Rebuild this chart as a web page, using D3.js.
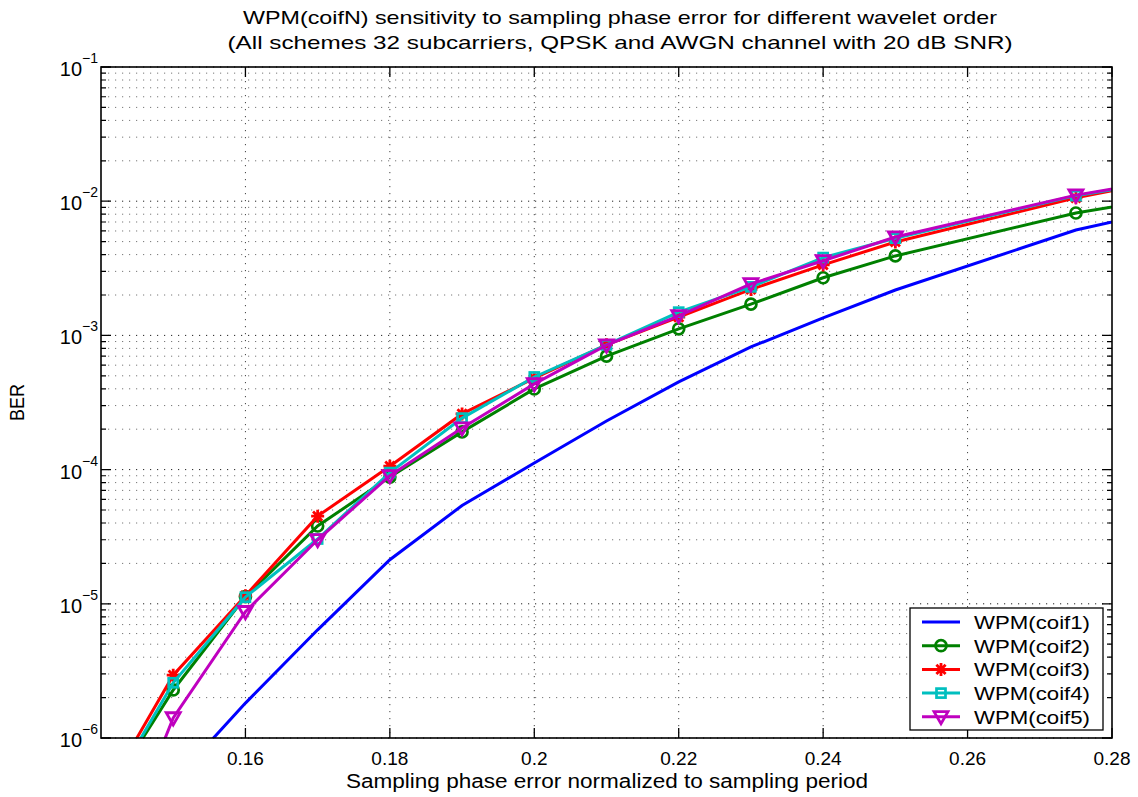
<!DOCTYPE html>
<meta charset="utf-8">
<head>
<style>
  body { margin: 0; background: #fff; }
  text { font-family: "Liberation Sans", Arial, sans-serif; fill: #000; }
</style>
</head>
<body>
<div id="chart"></div>
<script src="https://d3js.org/d3.v7.min.js"></script>
<script>

// sampling phase error (normalized), first and last points fall outside the view
var phaseErr = [0.14, 0.15, 0.16, 0.17, 0.18, 0.19, 0.20, 0.21, 0.22, 0.23, 0.24, 0.25, 0.275, 0.30];

var berCoif1 = [1.0e-7, 4.7e-7, 1.82e-6, 6.4e-6, 2.13e-5, 5.4e-5, 1.12e-4, 2.3e-4, 4.5e-4, 8.2e-4, 1.35e-3, 2.18e-3, 6.1e-3, 1.21e-2];
var berCoif2 = [3.2e-7, 2.28e-6, 1.13e-5, 3.8e-5, 8.8e-5, 1.91e-4, 3.99e-4, 7.0e-4, 1.12e-3, 1.71e-3, 2.69e-3, 3.91e-3, 8.17e-3, 1.37e-2];
var berCoif3 = [3.45e-7, 2.94e-6, 1.15e-5, 4.5e-5, 1.06e-4, 2.6e-4, 4.8e-4, 8.5e-4, 1.37e-3, 2.2e-3, 3.35e-3, 4.97e-3, 1.06e-2, 1.93e-2];
var berCoif4 = [3.1e-7, 2.58e-6, 1.12e-5, 3.04e-5, 9.5e-5, 2.42e-4, 4.9e-4, 8.5e-4, 1.49e-3, 2.3e-3, 3.8e-3, 5.3e-3, 1.1e-2, 1.83e-2];
var berCoif5 = [6.4e-8, 1.41e-6, 8.73e-6, 3.0e-5, 9.0e-5, 2.04e-4, 4.35e-4, 8.47e-4, 1.40e-3, 2.42e-3, 3.6e-3, 5.41e-3, 1.11e-2, 1.86e-2];

var seriesNames = ["WPM(coif1)", "WPM(coif2)", "WPM(coif3)", "WPM(coif4)", "WPM(coif5)"];
var xTicks = [0.16, 0.18, 0.20, 0.22, 0.24, 0.26, 0.28];
var xTickLabels = ["0.16", "0.18", "0.2", "0.22", "0.24", "0.26", "0.28"];
var yExponents = [-1, -2, -3, -4, -5, -6];

var series = [
  { name: seriesNames[0], values: berCoif1, color: "#0000ff", marker: "none" },
  { name: seriesNames[1], values: berCoif2, color: "#008000", marker: "circle" },
  { name: seriesNames[2], values: berCoif3, color: "#ff0000", marker: "star" },
  { name: seriesNames[3], values: berCoif4, color: "#00bfbf", marker: "square" },
  { name: seriesNames[4], values: berCoif5, color: "#bf00bf", marker: "triangle" }
];

var W = 1138, H = 797;
var margin = {top: 67, right: 26, bottom: 59, left: 101},
    width = W - margin.left - margin.right,
    height = H - margin.top - margin.bottom;

var svg = d3.select("#chart").append("svg")
    .attr("width", W)
    .attr("height", H);

var g = svg.append("g")
    .attr("transform", "translate(" + margin.left + "," + margin.top + ")");

var x = d3.scaleLinear().domain([0.14, 0.28]).range([0, width]);
var y = d3.scaleLog().domain([1e-6, 1e-1]).range([height, 0]);

// minor / major log positions
var minorVals = [], majorVals = [];
yExponents.forEach(function(e) {
  majorVals.push(Math.pow(10, e));
  if (e < -1) {
    for (var k = 2; k <= 9; k++) minorVals.push(k * Math.pow(10, e));
  }
});

// grid
g.selectAll(".ygridminor").data(minorVals).enter().append("line")
  .attr("x1", 0).attr("x2", width)
  .attr("y1", function(d) { return y(d); }).attr("y2", function(d) { return y(d); })
  .attr("stroke", "#777").attr("stroke-width", 1).attr("stroke-dasharray", "1.2,5.8");

g.selectAll(".ygridmajor").data(majorVals).enter().append("line")
  .attr("x1", 0).attr("x2", width)
  .attr("y1", function(d) { return y(d); }).attr("y2", function(d) { return y(d); })
  .attr("stroke", "#222").attr("stroke-width", 1).attr("stroke-dasharray", "1.2,5.8");

g.selectAll(".xgrid").data(xTicks.slice(0, -1)).enter().append("line")
  .attr("y1", 0).attr("y2", height)
  .attr("x1", function(d) { return x(d); }).attr("x2", function(d) { return x(d); })
  .attr("stroke", "#444").attr("stroke-width", 1).attr("stroke-dasharray", "1.2,5.8");

// ticks (inside, on all four sides)
g.selectAll(".ytick").data(majorVals).enter().append("path")
  .attr("d", function(d) { var yy = y(d); return "M0," + yy + "h10M" + width + "," + yy + "h-10"; })
  .attr("stroke", "#000").attr("stroke-width", 1.3);
g.selectAll(".ytickm").data(minorVals).enter().append("path")
  .attr("d", function(d) { var yy = y(d); return "M0," + yy + "h5M" + width + "," + yy + "h-5"; })
  .attr("stroke", "#000").attr("stroke-width", 1.2);
g.selectAll(".xtick").data(xTicks).enter().append("path")
  .attr("d", function(d) { var xx = x(d); return "M" + xx + "," + height + "v-10M" + xx + ",0v10"; })
  .attr("stroke", "#000").attr("stroke-width", 1.3);

// clip for data
svg.append("clipPath").attr("id", "plotclip").append("rect")
  .attr("x", 0).attr("y", 0).attr("width", width).attr("height", height);

var plot = g.append("g").attr("clip-path", "url(#plotclip)");

var line = d3.line()
  .x(function(d) { return x(d[0]); })
  .y(function(d) { return y(d[1]); });

function drawMarker(sel, type, color) {
  if (type == "circle") {
    sel.append("circle").attr("r", 5.5)
      .attr("fill", "none").attr("stroke", color).attr("stroke-width", 2.7);
  } else if (type == "star") {
    sel.append("path").attr("d", "M-6.5,0H6.5M0,-6.5V6.5M-4.6,-4.6L4.6,4.6M-4.6,4.6L4.6,-4.6")
      .attr("fill", "none").attr("stroke", color).attr("stroke-width", 2.8);
  } else if (type == "square") {
    sel.append("rect").attr("x", -4.5).attr("y", -4.5).attr("width", 9).attr("height", 9)
      .attr("fill", "none").attr("stroke", color).attr("stroke-width", 2.7);
  } else if (type == "triangle") {
    sel.append("path").attr("d", "M-7,-5.2L7,-5.2L0,7Z")
      .attr("fill", "none").attr("stroke", color).attr("stroke-width", 2.8)
      .attr("stroke-linejoin", "miter");
  }
}

series.forEach(function(s) {
  var pts = phaseErr.map(function(p, i) { return [p, s.values[i]]; });
  plot.append("path").datum(pts)
    .attr("d", line)
    .attr("fill", "none")
    .attr("stroke", s.color)
    .attr("stroke-width", 3);
  if (s.marker != "none") {
    plot.selectAll(null).data(pts).enter().append("g")
      .attr("transform", function(d) { return "translate(" + x(d[0]) + "," + y(d[1]) + ")"; })
      .each(function() { drawMarker(d3.select(this), s.marker, s.color); });
  }
});

// box
g.append("rect").attr("x", 0).attr("y", 0).attr("width", width).attr("height", height)
  .attr("fill", "none").attr("stroke", "#000").attr("stroke-width", 1.6);

// tick labels
g.selectAll(".xlab").data(xTicks).enter().append("text")
  .attr("x", function(d) { return x(d); })
  .attr("y", height + 27)
  .attr("text-anchor", "middle")
  .style("font-size", "19px")
  .text(function(d, i) { return xTickLabels[i]; });

var ylab = g.selectAll(".ylab").data(yExponents).enter().append("text")
  .attr("x", -3)
  .attr("y", function(d) { return y(Math.pow(10, d)) + 9; })
  .attr("text-anchor", "end")
  .style("font-size", "20px");
ylab.append("tspan").text("10");
ylab.append("tspan")
  .attr("dy", -13)
  .style("font-size", "14px")
  .text(function(d) { return "\u2212" + Math.abs(d); });

// titles (reference font is wider than Liberation Sans, so stretch to its width)
svg.append("text").attr("x", 620).attr("y", 24).attr("text-anchor", "middle")
  .style("font-size", "19px")
  .attr("textLength", 754).attr("lengthAdjust", "spacingAndGlyphs")
  .text("WPM(coifN) sensitivity to sampling phase error for different wavelet order");
svg.append("text").attr("x", 620).attr("y", 49).attr("text-anchor", "middle")
  .style("font-size", "19px")
  .attr("textLength", 785).attr("lengthAdjust", "spacingAndGlyphs")
  .text("(All schemes 32 subcarriers, QPSK and AWGN channel with 20 dB SNR)");

svg.append("text").attr("x", 607).attr("y", 788).attr("text-anchor", "middle")
  .style("font-size", "19.5px")
  .attr("textLength", 522).attr("lengthAdjust", "spacingAndGlyphs")
  .text("Sampling phase error normalized to sampling period");

svg.append("text")
  .attr("transform", "translate(24," + (margin.top + height / 2) + ") rotate(-90)")
  .attr("text-anchor", "middle")
  .style("font-size", "19.5px")
  .attr("textLength", 37).attr("lengthAdjust", "spacingAndGlyphs")
  .text("BER");

// legend
var legX = 910, legY = 608, legW = 193, legH = 122;
svg.append("rect").attr("x", legX).attr("y", legY).attr("width", legW).attr("height", legH)
  .attr("fill", "#fff").attr("stroke", "#000").attr("stroke-width", 1.3);

var leg = svg.selectAll(".leg").data(series).enter().append("g")
  .attr("transform", function(d, i) { return "translate(" + legX + "," + (legY + 14 + i * 23.7) + ")"; });
leg.append("line").attr("x1", 12).attr("x2", 50).attr("y1", 0).attr("y2", 0)
  .attr("stroke", function(d) { return d.color; }).attr("stroke-width", 3);
leg.each(function(d) {
  var m = d3.select(this).append("g").attr("transform", "translate(31,0)");
  drawMarker(m, d.marker, d.color);
});
leg.append("text").attr("x", 64).attr("y", 7)
  .style("font-size", "19px")
  .attr("textLength", 116).attr("lengthAdjust", "spacingAndGlyphs")
  .text(function(d) { return d.name; });

</script>
</body>
